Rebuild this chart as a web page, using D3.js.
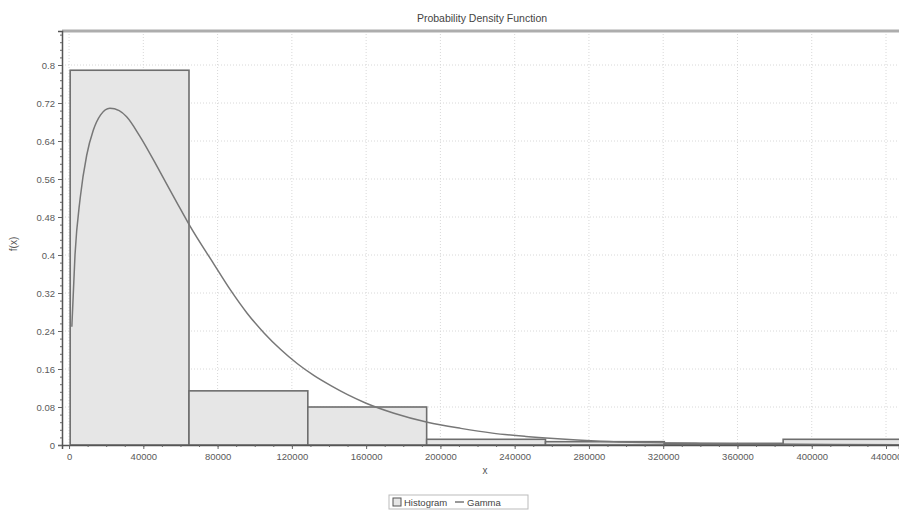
<!DOCTYPE html>
<html>
<head>
<meta charset="utf-8">
<script src="https://cdn.jsdelivr.net/npm/d3@7"></script>
<style>
  html, body { margin: 0; padding: 0; background: #fff; }
  svg { display: block; font-family: "Liberation Sans", Arial, sans-serif; }
</style>
</head>
<body>
<div id="chart"></div>
<script>
// Probability Density Function — histogram with fitted Gamma curve.

// Histogram bins (lower edge, width) and their heights.
const BIN_START = 600;
const BIN_WIDTH = 64000;
const binHeights = [0.789, 0.114, 0.080, 0.012, 0.007, 0.0035, 0.012];

// Gamma density curve.
const curveX = [1500, 3200, 6000, 9500, 13000, 17000, 22000, 27000, 31000, 38000,
  49000, 58000, 65000, 78000, 87000, 96000, 105000, 114000, 123000, 132000,
  141000, 150000, 160000, 175000, 193000, 211000, 228000, 246000, 261000, 286000,
  313000, 340000, 394000, 450000];
const curveY = [0.249, 0.400, 0.520, 0.610, 0.662, 0.695, 0.709, 0.704, 0.691, 0.651,
  0.575, 0.511, 0.462, 0.381, 0.326, 0.277, 0.236, 0.201, 0.171, 0.146,
  0.125, 0.106, 0.088, 0.067, 0.048, 0.035, 0.025, 0.018, 0.0135, 0.008,
  0.005, 0.0033, 0.0015, 0.0007];

const xTicks = [0, 40000, 80000, 120000, 160000, 200000, 240000, 280000, 320000, 360000, 400000, 440000];
const yTicks = [0, 0.08, 0.16, 0.24, 0.32, 0.4, 0.48, 0.56, 0.64, 0.72, 0.8];
const yTickLabels = ["0", "0.08", "0.16", "0.24", "0.32", "0.4", "0.48", "0.56", "0.64", "0.72", "0.8"];

const width = 899;
const height = 510;
const plot = { left: 62, right: 899, top: 31, bottom: 445 };

const svg = d3.select("#chart").append("svg")
  .attr("width", width)
  .attr("height", height);

const x = d3.scaleLinear().domain([-3800, 447000]).range([plot.left, plot.right]);
const y = d3.scaleLinear().domain([0, 0.8716]).range([plot.bottom, plot.top]);

// ---- grid ----
svg.append("g").selectAll("line")
  .data(xTicks)
  .join("line")
  .attr("x1", (d) => x(d)).attr("x2", (d) => x(d))
  .attr("y1", plot.top).attr("y2", plot.bottom)
  .attr("stroke", "#d8d8d8").attr("stroke-dasharray", "1,2");

svg.append("g").selectAll("line")
  .data(yTicks.slice(1))
  .join("line")
  .attr("x1", plot.left).attr("x2", plot.right)
  .attr("y1", (d) => y(d)).attr("y2", (d) => y(d))
  .attr("stroke", "#d8d8d8").attr("stroke-dasharray", "1,2");

// ---- histogram ----
const bins = binHeights.map((h, i) => ({
  x0: BIN_START + i * BIN_WIDTH,
  x1: BIN_START + (i + 1) * BIN_WIDTH,
  h,
}));

svg.append("g").selectAll("rect")
  .data(bins)
  .join("rect")
  .attr("x", (d) => x(d.x0))
  .attr("y", (d) => y(d.h))
  .attr("width", (d) => x(d.x1) - x(d.x0))
  .attr("height", (d) => y(0) - y(d.h))
  .attr("fill", "#e6e6e6")
  .attr("stroke", "#6e6e6e")
  .attr("stroke-width", 1.6);

// ---- gamma curve ----
const line = d3.line()
  .x((d) => x(d[0]))
  .y((d) => y(d[1]))
  .curve(d3.curveMonotoneX);

svg.append("path")
  .datum(d3.zip(curveX, curveY))
  .attr("d", line)
  .attr("fill", "none")
  .attr("stroke", "#777")
  .attr("stroke-width", 1.5);

// ---- frame ----
svg.append("line")
  .attr("x1", plot.left).attr("x2", plot.right)
  .attr("y1", plot.top).attr("y2", plot.top)
  .attr("stroke", "#adadad").attr("stroke-width", 3);

// ---- axes ----
svg.append("g")
  .attr("transform", `translate(0,${plot.bottom})`)
  .call(d3.axisBottom(x).tickValues(xTicks).tickFormat(d3.format("d")).tickSize(4).tickPadding(4));

svg.append("g")
  .attr("transform", `translate(0,${plot.bottom})`)
  .call(d3.axisBottom(x).tickValues(d3.range(0, 447000, 10000)).tickFormat("").tickSize(2))
  .select(".domain").remove();

svg.append("g")
  .attr("transform", `translate(${plot.left},0)`)
  .call(d3.axisLeft(y).tickValues(yTicks).tickFormat((d, i) => yTickLabels[i]).tickSize(4).tickPadding(3));

svg.append("g")
  .attr("transform", `translate(${plot.left},0)`)
  .call(d3.axisLeft(y).tickValues(d3.range(0, 0.87, 0.016)).tickFormat("").tickSize(2))
  .select(".domain").remove();

svg.selectAll(".domain")
  .attr("stroke", "#555").attr("stroke-width", 1.5);
svg.selectAll(".tick line").attr("stroke", "#666");
svg.selectAll(".tick text")
  .attr("fill", "#5a5a5a")
  .style("font-size", "9.5px");

// ---- titles ----
svg.append("text")
  .attr("x", 482).attr("y", 22)
  .attr("text-anchor", "middle")
  .attr("fill", "#444")
  .style("font-size", "10.5px")
  .text("Probability Density Function");

svg.append("text")
  .attr("x", 485).attr("y", 474)
  .attr("text-anchor", "middle")
  .attr("fill", "#555")
  .style("font-size", "10px")
  .text("x");

svg.append("text")
  .attr("transform", "translate(17,244) rotate(-90)")
  .attr("text-anchor", "middle")
  .attr("fill", "#555")
  .style("font-size", "10px")
  .text("f(x)");

// ---- legend ----
const legend = svg.append("g").attr("transform", "translate(389,495)");
legend.append("rect")
  .attr("width", 139).attr("height", 14)
  .attr("fill", "#fff").attr("stroke", "#bbb");
legend.append("rect")
  .attr("x", 4).attr("y", 3).attr("width", 8).attr("height", 8)
  .attr("fill", "#e6e6e6").attr("stroke", "#555");
legend.append("text")
  .attr("x", 15).attr("y", 10.5)
  .attr("fill", "#444")
  .style("font-size", "9.5px")
  .text("Histogram");
legend.append("line")
  .attr("x1", 66).attr("x2", 75).attr("y1", 7).attr("y2", 7)
  .attr("stroke", "#555").attr("stroke-width", 1.2);
legend.append("text")
  .attr("x", 78).attr("y", 10.5)
  .attr("fill", "#444")
  .style("font-size", "9.5px")
  .text("Gamma");
</script>
</body>
</html>
